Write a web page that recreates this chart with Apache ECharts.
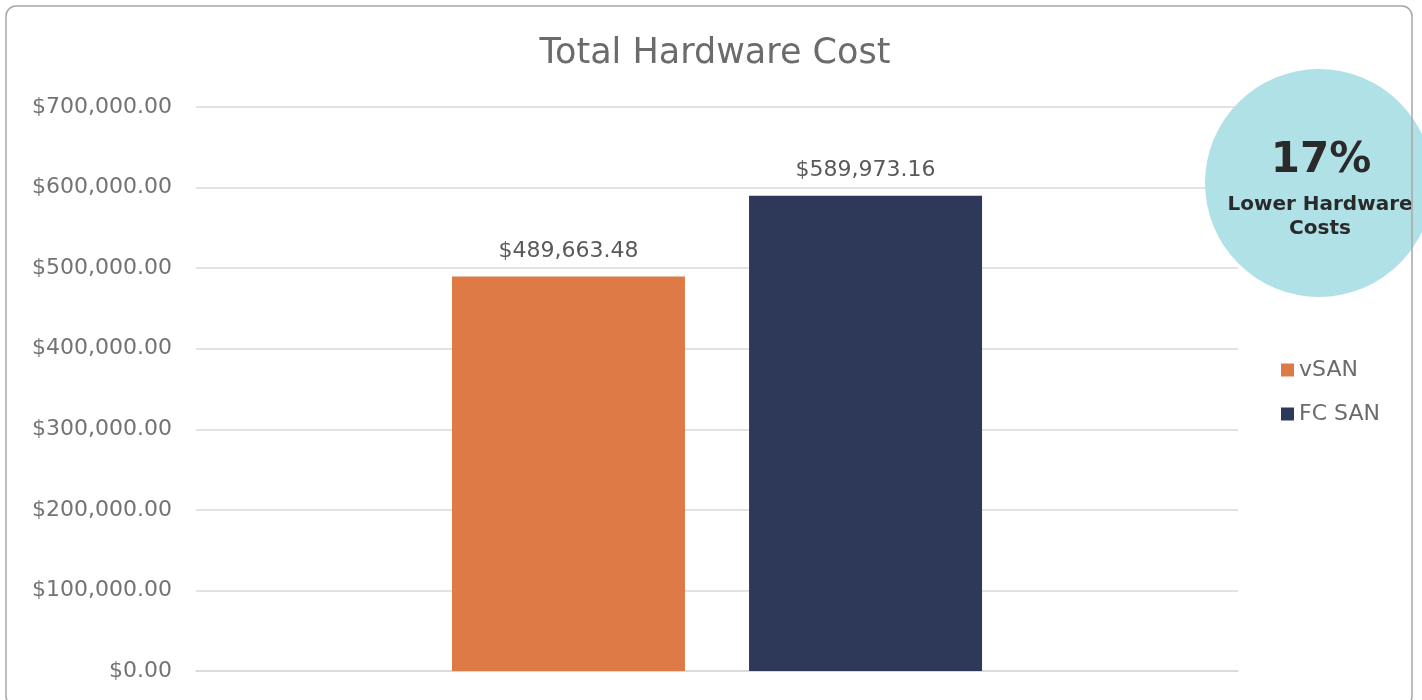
<!DOCTYPE html>
<html><head><meta charset="utf-8">
<script src="https://cdn.jsdelivr.net/npm/echarts@6/dist/echarts.min.js"></script>
<style>html,body{margin:0;padding:0;background:#fff;}#c{width:1422px;height:700px;}</style>
</head><body><div id="c"></div>
<script>
const categories = ['Total Hardware Cost'];
const seriesNames = ['vSAN', 'FC SAN'];
const vsanValues = [489663.48];
const fcsanValues = [589973.16];
const colors = ['#DD7A46', '#2E3859'];
const yTicks = [0, 100000, 200000, 300000, 400000, 500000, 600000, 700000];

const fmt = v => '$' + Number(v).toLocaleString('en-US', {minimumFractionDigits: 2, maximumFractionDigits: 2});
const font = '"DejaVu Sans", sans-serif';

const chart = echarts.init(document.getElementById('c'), null, {renderer: 'canvas'});
chart.setOption({
  animation: false,
  title: {
    text: 'Total Hardware Cost', left: 710, top: 31, textAlign: 'center',
    textStyle: {fontFamily: font, fontSize: 35, fontWeight: 'normal', color: '#6b6b6b'}
  },
  grid: {left: 196, right: 184, top: 107, bottom: 29, containLabel: false},
  legend: {
    orient: 'vertical', left: 1276, top: 354, itemGap: 22, itemWidth: 13, itemHeight: 13,
    icon: 'rect', data: seriesNames,
    textStyle: {fontFamily: font, fontSize: 22, color: '#6b6b6b'}
  },
  xAxis: {
    type: 'category', data: categories,
    axisLine: {lineStyle: {color: '#d9d9d9', width: 1.5}},
    axisTick: {show: false}, axisLabel: {show: false}
  },
  yAxis: {
    type: 'value', min: 0, max: 700000, interval: 100000,
    axisLine: {show: false}, axisTick: {show: false},
    splitLine: {lineStyle: {color: '#d9d9d9', width: 1.5}},
    axisLabel: {formatter: v => fmt(v), fontFamily: font, fontSize: 22, color: '#737373', margin: 24}
  },
  series: [
    {name: seriesNames[0], type: 'bar', data: vsanValues, barWidth: 233, barGap: '27.5%',
     itemStyle: {color: colors[0]},
     label: {show: true, position: 'top', distance: 14, formatter: p => fmt(p.value), fontFamily: font, fontSize: 22, color: '#595959'}},
    {name: seriesNames[1], type: 'bar', data: fcsanValues, barWidth: 233,
     itemStyle: {color: colors[1]},
     label: {show: true, position: 'top', distance: 14, formatter: p => fmt(p.value), fontFamily: font, fontSize: 22, color: '#595959'}}
  ],
  graphic: [
    {type: 'circle', shape: {cx: 1319, cy: 183, r: 114}, style: {fill: '#B0E1E7'}, z: 10},
    {type: 'text', x: 1321, y: 161, z: 11, style: {text: '17%', fontFamily: font, fontSize: 42, fontWeight: 'bold', fill: '#2a2a2a', align: 'center', verticalAlign: 'middle'}},
    {type: 'text', x: 1320, y: 217, z: 11, style: {text: 'Lower Hardware\nCosts', fontFamily: font, fontSize: 20, fontWeight: 'bold', fill: '#2a2a2a', align: 'center', verticalAlign: 'middle', lineHeight: 24}},
    {type: 'rect', shape: {x: 6, y: 6, width: 1406, height: 700, r: 10}, style: {fill: 'none', stroke: '#a6a6a6', lineWidth: 1.5}, z: 12, silent: true}
  ]
});
</script></body></html>
